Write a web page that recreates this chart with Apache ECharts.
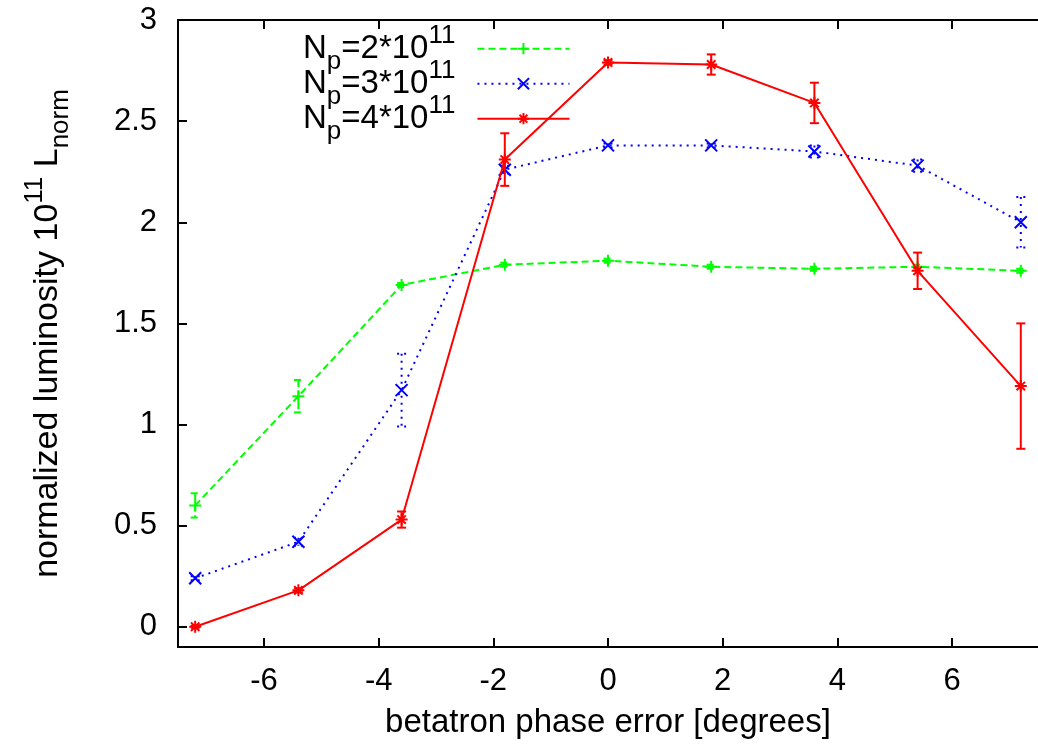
<!DOCTYPE html>
<html>
<head>
<meta charset="utf-8">
<script src="https://cdn.jsdelivr.net/npm/echarts@6/dist/echarts.min.js"></script>
<style>
  html, body { margin: 0; padding: 0; background: #fff; }
  #chart { width: 1038px; height: 751px; }
</style>
</head>
<body>
<div id="chart"></div>
<script>
// phase error points (degrees)
const phase = [-7.2, -5.4, -3.6, -1.8, 0, 1.8, 3.6, 5.4, 7.2]

// Np = 2e11
const lum2 = [0.60, 1.14, 1.69, 1.79, 1.81, 1.78, 1.77, 1.78, 1.76]
const err2 = [0.06, 0.08, 0.01, 0.01, 0.01, 0.01, 0.01, 0.01, 0.01]
// Np = 3e11
const lum3 = [0.24, 0.42, 1.17, 2.26, 2.38, 2.38, 2.35, 2.28, 2.00]
const err3 = [0.01, 0.02, 0.18, 0.02, 0.01, 0.01, 0.03, 0.03, 0.125]
// Np = 4e11
const lum4 = [0.00, 0.18, 0.53, 2.31, 2.79, 2.78, 2.59, 1.76, 1.19]
const err4 = [0.005, 0.01, 0.04, 0.13, 0.01, 0.05, 0.10, 0.09, 0.31]

const xTicks = [-6, -4, -2, 0, 2, 4, 6]
const yTicks = [0, 0.5, 1, 1.5, 2, 2.5, 3]

const names = ['Np=2*10^11', 'Np=3*10^11', 'Np=4*10^11']
const legendText = [
  '{b|N}{sb|p}{b|=2*10}{sp|11}{gap|}',
  '{b|N}{sb|p}{b|=3*10}{sp|11}{gap|}',
  '{b|N}{sb|p}{b|=4*10}{sp|11}{gap|}'
]
const colors = ['#00ff00', '#0000ff', '#ff0000']
const dashes = [[7, 4], [2, 5], 'solid']
const symbols = [
  'path://M0,5L10,5M5,0L5,10',
  'path://M0,0L10,10M10,0L0,10',
  'path://M0,5L10,5M5,0L5,10M1.5,1.5L8.5,8.5M8.5,1.5L1.5,8.5'
]

const FONT = 'Liberation Sans, Arial, sans-serif'
// sub / superscript: token height decides how far it sits from the line middle
function richSet(base, small) {
  return {
    b: { fontSize: base, lineHeight: 34, fontFamily: FONT, color: '#000' },
    sp: { fontSize: small, lineHeight: 8.6, height: 8.6, verticalAlign: 'top', fontFamily: FONT, color: '#000' },
    sb: { fontSize: small, lineHeight: 7.4, height: 7.4, verticalAlign: 'bottom', fontFamily: FONT, color: '#000' },
    gap: { width: 17, lineHeight: 2, height: 2 }
  }
}

function pairs(ys) {
  return phase.map((x, i) => [x, ys[i]])
}

function errData(ys, es) {
  return phase.map((x, i) => [x, ys[i] - es[i], ys[i] + es[i]])
}

function errSeries(ys, es, idx) {
  const style = {
    stroke: colors[idx],
    lineWidth: 2,
    lineDash: idx === 2 ? null : dashes[idx]
  }
  return {
    name: names[idx] + ' err',
    type: 'custom',
    z: 2 + idx,
    silent: true,
    data: errData(ys, es),
    renderItem(params, api) {
      const x = api.value(0)
      const lo = api.coord([x, api.value(1)])
      const hi = api.coord([x, api.value(2)])
      const c = 4.5
      return {
        type: 'group',
        children: [
          { type: 'line', shape: { x1: hi[0], y1: hi[1], x2: lo[0], y2: lo[1] }, style },
          { type: 'line', shape: { x1: hi[0] - c, y1: hi[1], x2: hi[0] + c, y2: hi[1] }, style },
          { type: 'line', shape: { x1: lo[0] - c, y1: lo[1], x2: lo[0] + c, y2: lo[1] }, style }
        ]
      }
    }
  }
}

function lineSeries(ys, idx) {
  return {
    name: names[idx],
    type: 'line',
    z: 2 + idx,
    data: pairs(ys),
    symbol: symbols[idx],
    symbolSize: 12,
    showAllSymbol: true,
    lineStyle: { color: colors[idx], width: 2, type: dashes[idx] },
    itemStyle: { color: colors[idx], borderColor: colors[idx], borderWidth: 2 }
  }
}

const axisLine = { onZero: false, lineStyle: { color: '#000', width: 2 } }
const tickStyle = { color: '#000', width: 2 }

const chart = echarts.init(document.getElementById('chart'))
chart.setOption({
  animation: false,
  backgroundColor: '#fff',
  grid: { left: 178, top: 20, right: -9, bottom: 104 },
  legend: {
    data: names,
    orient: 'vertical',
    align: 'right',
    left: 303,
    top: 23,
    padding: 0,
    itemGap: -17,
    itemWidth: 92,
    itemHeight: 14,
    formatter: name => legendText[names.indexOf(name)],
    textStyle: { fontFamily: FONT, fontSize: 33, lineHeight: 34, color: '#000', rich: richSet(33, 26) }
  },
  xAxis: [
    {
      type: 'value',
      min: -7.5,
      max: 7.5,
      axisLine,
      splitLine: { show: false },
      axisTick: { inside: true, length: 9, customValues: xTicks, lineStyle: tickStyle },
      axisLabel: { customValues: xTicks, margin: 19, fontSize: 31, fontFamily: FONT, color: '#000' },
      name: 'betatron phase error [degrees]',
      nameLocation: 'middle',
      nameGap: 59,
      nameTextStyle: { fontSize: 33, fontFamily: FONT, color: '#000' }
    },
    {
      type: 'value',
      position: 'top',
      min: -7.5,
      max: 7.5,
      axisLine,
      splitLine: { show: false },
      axisTick: { inside: true, length: 9, customValues: xTicks, lineStyle: tickStyle },
      axisLabel: { show: false }
    }
  ],
  yAxis: {
    type: 'value',
    min: -0.1,
    max: 3,
    axisLine,
    splitLine: { show: false },
    axisTick: { inside: true, length: 9, customValues: yTicks, lineStyle: tickStyle },
    axisLabel: { customValues: yTicks, margin: 21, fontSize: 31, fontFamily: FONT, color: '#000' },
    name: '{b|normalized luminosity 10}{sp|11}{b| L}{sb|norm}',
    nameLocation: 'middle',
    nameRotate: 90,
    nameGap: 113,
    nameTextStyle: { fontSize: 34, lineHeight: 34, fontFamily: FONT, color: '#000', rich: richSet(34, 26) }
  },
  series: [
    errSeries(lum2, err2, 0),
    lineSeries(lum2, 0),
    errSeries(lum3, err3, 1),
    lineSeries(lum3, 1),
    errSeries(lum4, err4, 2),
    lineSeries(lum4, 2)
  ]
})
</script>
</body>
</html>
